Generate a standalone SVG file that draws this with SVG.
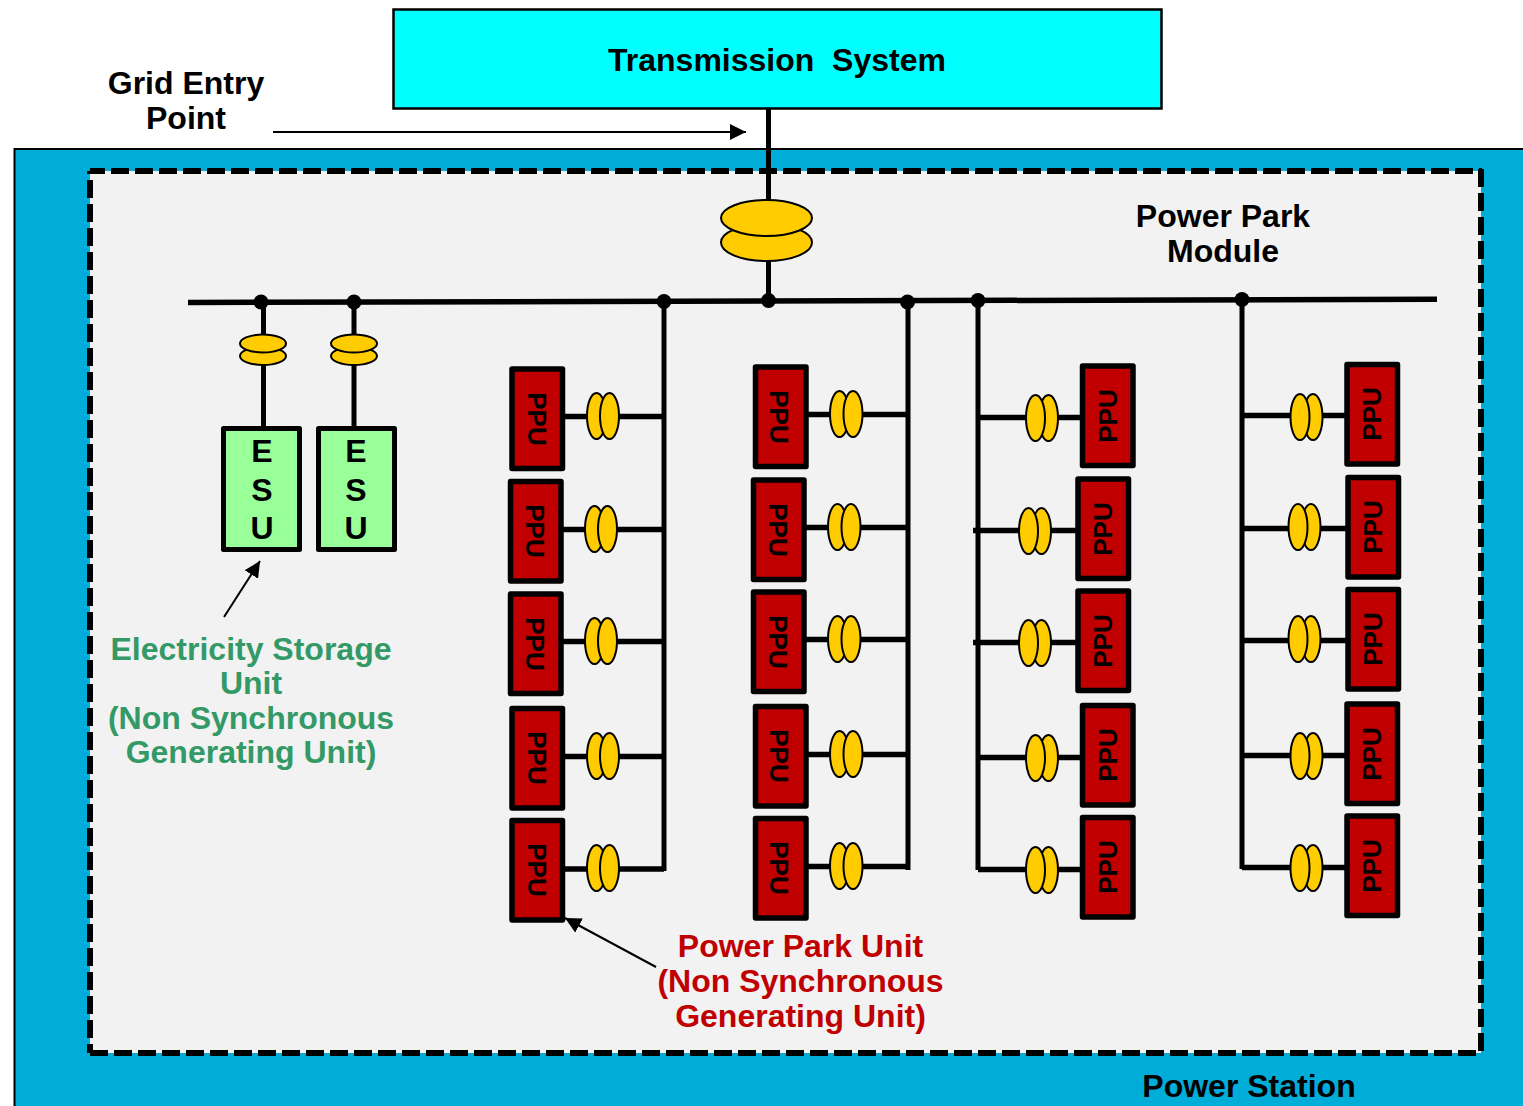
<svg xmlns="http://www.w3.org/2000/svg" width="1523" height="1106" viewBox="0 0 1523 1106">
<defs>
<marker id="ah" markerUnits="userSpaceOnUse" markerWidth="18" markerHeight="16" refX="16" refY="8" orient="auto"><path d="M0,0L16,8L0,16Z" fill="#000"/></marker>
</defs>
<style>
text{font-family:"Liberation Sans",Arial,sans-serif;font-weight:700;text-anchor:middle;fill:#000}
.lbl{font-size:32px}
.g{fill:#339966}
.r{fill:#C00000}
.ppu rect{fill:#C00000;stroke:#000;stroke-width:5.5;stroke-linejoin:round}
.ppu text{font-size:26px}
.esu rect{fill:#99FF99;stroke:#000;stroke-width:5;stroke-linejoin:round}
.esu text{font-size:32px}
.t ellipse{fill:#FFCC00;stroke:#000;stroke-width:2}
#conn path{fill:none;stroke:#000;stroke-width:5.5}
#conn circle{fill:#000}
#conn path.v{stroke-width:5}
#conn path.thin{stroke-width:2}
#power-park-module path{fill:none;stroke:#000;stroke-width:6;stroke-dasharray:18 6}
</style>
<rect width="1523" height="1106" fill="#fff"/>
<g id="power-station">
<rect x="14.500" y="149" width="1520" height="970" fill="#00ACD8" stroke="#000" stroke-width="2"/>
<text class="lbl" x="1249" y="1097">Power Station</text>
</g>
<g id="power-park-module">
<rect x="90" y="171" width="1391" height="882" fill="#F2F2F2"/>
<path d="M90,171H1482" stroke-dashoffset="3"/>
<path d="M90,171V1053" stroke-dashoffset="15"/>
<path d="M90,1053H1482"/>
<path d="M1481,169V1053"/>
<text class="lbl" x="1223" y="227">Power Park</text>
<text class="lbl" x="1223" y="262">Module</text>
</g>
<g id="transmission-system">
<rect x="393.500" y="9.500" width="768" height="99" fill="#00FFFF" stroke="#000" stroke-width="2.500"/>
<text class="lbl" x="777" y="71" xml:space="preserve">Transmission  System</text>
</g>
<g id="conn">
<path class="v" d="M768.500,109V300"/>
<path d="M188,302.500L1437,299.300"/>
<path class="v" d="M263.500,302V430M354,302V430"/>
<path class="v" d="M664,301V871M908,301V870M978,300V870M1242,299V869"/>
<path d="M562,416.500H664M560,529.500H664M560,641.500H664M562,756.500H664M562,869H664"/>
<path d="M805,414.500H908M803,527.500H908M803,639.500H908M805,754.500H908M805,866.500H908"/>
<path d="M978,417.500H1083M973,530.500H1079M973,642.500H1079M978,757.500H1083M978,869.500H1083"/>
<path d="M1242,415.500H1348M1242,528.500H1349M1242,640.500H1349M1242,755.500H1348M1242,867.500H1348"/>
<circle cx="261" cy="302" r="7.500"/><circle cx="354" cy="302" r="7.500"/><circle cx="664" cy="301.500" r="7.500"/><circle cx="768.500" cy="300.500" r="7.500"/><circle cx="907.500" cy="302" r="7.500"/><circle cx="978" cy="300.500" r="7.500"/><circle cx="1242" cy="299.500" r="7.500"/>
<path class="thin" d="M273,132H746" marker-end="url(#ah)"/>
<path class="thin" d="M224,617L260,561" marker-end="url(#ah)"/>
<path class="thin" d="M656,967L565,918" marker-end="url(#ah)"/>
</g>
<g id="tx-main" class="t"><ellipse cx="766.500" cy="242.500" rx="45.500" ry="18.500"/><ellipse cx="766.500" cy="218" rx="45.500" ry="18"/></g>
<g id="tx-esu-1" class="t"><ellipse cx="263" cy="356" rx="23" ry="9"/><ellipse cx="263" cy="343.500" rx="23" ry="9"/></g>
<g id="tx-esu-2" class="t"><ellipse cx="354" cy="356" rx="23" ry="9"/><ellipse cx="354" cy="343.500" rx="23" ry="9"/></g>
<g id="tx-a" class="t">
<ellipse cx="596.500" cy="416" rx="9.500" ry="23"/><ellipse cx="609.500" cy="416" rx="9.500" ry="23"/>
<ellipse cx="594.500" cy="529" rx="9.500" ry="23"/><ellipse cx="607.500" cy="529" rx="9.500" ry="23"/>
<ellipse cx="594.500" cy="641" rx="9.500" ry="23"/><ellipse cx="607.500" cy="641" rx="9.500" ry="23"/>
<ellipse cx="596.500" cy="756" rx="9.500" ry="23"/><ellipse cx="609.500" cy="756" rx="9.500" ry="23"/>
<ellipse cx="596.500" cy="868" rx="9.500" ry="23"/><ellipse cx="609.500" cy="868" rx="9.500" ry="23"/>
</g>
<g id="tx-b" class="t">
<ellipse cx="839.500" cy="414" rx="9.500" ry="23"/><ellipse cx="853" cy="414" rx="9.500" ry="23"/>
<ellipse cx="837.500" cy="527" rx="9.500" ry="23"/><ellipse cx="851" cy="527" rx="9.500" ry="23"/>
<ellipse cx="837.500" cy="639" rx="9.500" ry="23"/><ellipse cx="851" cy="639" rx="9.500" ry="23"/>
<ellipse cx="839.500" cy="754" rx="9.500" ry="23"/><ellipse cx="853" cy="754" rx="9.500" ry="23"/>
<ellipse cx="839.500" cy="866" rx="9.500" ry="23"/><ellipse cx="853" cy="866" rx="9.500" ry="23"/>
</g>
<g id="tx-c" class="t">
<ellipse cx="1048.500" cy="418" rx="9.500" ry="23"/><ellipse cx="1035.500" cy="418" rx="9.500" ry="23"/>
<ellipse cx="1041.500" cy="531" rx="9.500" ry="23"/><ellipse cx="1028.500" cy="531" rx="9.500" ry="23"/>
<ellipse cx="1041.500" cy="643" rx="9.500" ry="23"/><ellipse cx="1028.500" cy="643" rx="9.500" ry="23"/>
<ellipse cx="1048.500" cy="758" rx="9.500" ry="23"/><ellipse cx="1035.500" cy="758" rx="9.500" ry="23"/>
<ellipse cx="1048.500" cy="870" rx="9.500" ry="23"/><ellipse cx="1035.500" cy="870" rx="9.500" ry="23"/>
</g>
<g id="tx-d" class="t">
<ellipse cx="1313" cy="417" rx="9.500" ry="23"/><ellipse cx="1300" cy="417" rx="9.500" ry="23"/>
<ellipse cx="1311" cy="527" rx="9.500" ry="23"/><ellipse cx="1298" cy="527" rx="9.500" ry="23"/>
<ellipse cx="1311" cy="639" rx="9.500" ry="23"/><ellipse cx="1298" cy="639" rx="9.500" ry="23"/>
<ellipse cx="1313" cy="756" rx="9.500" ry="23"/><ellipse cx="1300" cy="756" rx="9.500" ry="23"/>
<ellipse cx="1313" cy="868" rx="9.500" ry="23"/><ellipse cx="1300" cy="868" rx="9.500" ry="23"/>
</g>
<g id="esu-1" class="esu"><rect x="223.500" y="428.500" width="76" height="121"/><text x="262" y="462">E</text><text x="262" y="501">S</text><text x="262" y="539">U</text></g>
<g id="esu-2" class="esu"><rect x="318.500" y="428.500" width="76" height="121"/><text x="356" y="462">E</text><text x="356" y="501">S</text><text x="356" y="539">U</text></g>
<g id="ppu-a1" class="ppu"><rect x="512" y="369" width="50.500" height="99.500"/><text transform="translate(528,419) rotate(90)">PPU</text></g>
<g id="ppu-a2" class="ppu"><rect x="510.500" y="481.500" width="50.500" height="99.500"/><text transform="translate(526,531) rotate(90)">PPU</text></g>
<g id="ppu-a3" class="ppu"><rect x="510.500" y="594" width="50.500" height="99.500"/><text transform="translate(526,644) rotate(90)">PPU</text></g>
<g id="ppu-a4" class="ppu"><rect x="512" y="708.500" width="50.500" height="99.500"/><text transform="translate(528,758) rotate(90)">PPU</text></g>
<g id="ppu-a5" class="ppu"><rect x="512" y="820.500" width="50.500" height="99.500"/><text transform="translate(528,870) rotate(90)">PPU</text></g>
<g id="ppu-b1" class="ppu"><rect x="755.500" y="367" width="50.500" height="99.500"/><text transform="translate(769.500,417) rotate(90)">PPU</text></g>
<g id="ppu-b2" class="ppu"><rect x="753.500" y="480" width="50.500" height="99.500"/><text transform="translate(768.500,530) rotate(90)">PPU</text></g>
<g id="ppu-b3" class="ppu"><rect x="753.500" y="592" width="50.500" height="99.500"/><text transform="translate(768.500,642) rotate(90)">PPU</text></g>
<g id="ppu-b4" class="ppu"><rect x="755.500" y="706.500" width="50.500" height="99.500"/><text transform="translate(769.500,756) rotate(90)">PPU</text></g>
<g id="ppu-b5" class="ppu"><rect x="755.500" y="818.500" width="50.500" height="99.500"/><text transform="translate(769.500,868) rotate(90)">PPU</text></g>
<g id="ppu-c1" class="ppu"><rect x="1082.500" y="366" width="50.500" height="99.500"/><text transform="translate(1116.500,416) rotate(-90)">PPU</text></g>
<g id="ppu-c2" class="ppu"><rect x="1078" y="479" width="50.500" height="99.500"/><text transform="translate(1112,529) rotate(-90)">PPU</text></g>
<g id="ppu-c3" class="ppu"><rect x="1078" y="591" width="50.500" height="99.500"/><text transform="translate(1112,641) rotate(-90)">PPU</text></g>
<g id="ppu-c4" class="ppu"><rect x="1082.500" y="705.500" width="50.500" height="99.500"/><text transform="translate(1116.500,755) rotate(-90)">PPU</text></g>
<g id="ppu-c5" class="ppu"><rect x="1082.500" y="817.500" width="50.500" height="99.500"/><text transform="translate(1116.500,867) rotate(-90)">PPU</text></g>
<g id="ppu-d1" class="ppu"><rect x="1347" y="364.500" width="50.500" height="99.500"/><text transform="translate(1381,414) rotate(-90)">PPU</text></g>
<g id="ppu-d2" class="ppu"><rect x="1348" y="477.500" width="50.500" height="99.500"/><text transform="translate(1382,527) rotate(-90)">PPU</text></g>
<g id="ppu-d3" class="ppu"><rect x="1348" y="589.500" width="50.500" height="99.500"/><text transform="translate(1382,639) rotate(-90)">PPU</text></g>
<g id="ppu-d4" class="ppu"><rect x="1347" y="704" width="50.500" height="99.500"/><text transform="translate(1381,754) rotate(-90)">PPU</text></g>
<g id="ppu-d5" class="ppu"><rect x="1347" y="816" width="50.500" height="99.500"/><text transform="translate(1381,866) rotate(-90)">PPU</text></g>
<g id="labels">
<text class="lbl" x="186" y="94">Grid Entry</text>
<text class="lbl" x="186" y="129">Point</text>
<text class="lbl g" x="251" y="660">Electricity Storage</text>
<text class="lbl g" x="251" y="694">Unit</text>
<text class="lbl g" x="251" y="729">(Non Synchronous</text>
<text class="lbl g" x="251" y="763">Generating Unit)</text>
<text class="lbl r" x="800.500" y="957">Power Park Unit</text>
<text class="lbl r" x="800.500" y="992">(Non Synchronous</text>
<text class="lbl r" x="800.500" y="1027">Generating Unit)</text>
</g>
</svg>
